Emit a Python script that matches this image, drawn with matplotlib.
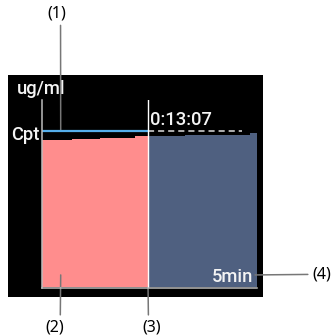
import matplotlib
matplotlib.use('Agg')
import matplotlib.pyplot as plt

W, H = 332, 336

# concentration trend (ug/ml) against time (min)
hist_t = [0.0, 3.7, 7.2, 11.5, 13.12]
hist_c = [3.77, 3.79, 3.83, 3.88, 3.88]
pred_t = [13.12, 17.7, 25.7, 26.6]
pred_c = [3.88, 3.90, 3.955, 3.955]
target_cpt = 4.0
cursor_t = 13.12
dash_end = 24.75
unit_label = 'ug/ml'
target_label = 'Cpt'
cursor_label = '0:13:07'
scale_label = '5min'
callouts = ['(1)', '(2)', '(3)', '(4)']

PINK = '#FF8D8D'
SLATE = '#4F6080'
BLUE = '#55AEEA'
GRID = '#BDBDBD'
CALL = '#777777'


def px_box(x0, y0, x1, y1):
    # pixel box (top-left origin) -> figure fraction rect
    return [x0 / W, 1 - y1 / H, (x1 - x0) / W, (y1 - y0) / H]


fig = plt.figure(figsize=(W / 100, H / 100), dpi=100)
fig.patch.set_facecolor('white')

# black monitor panel
bg = fig.add_axes(px_box(8, 75, 263, 297))
bg.set_facecolor('black')
bg.set_xticks([])
bg.set_yticks([])
for s in bg.spines.values():
    s.set_visible(False)

ax = fig.add_axes(px_box(42, 100, 257, 287.5))
ax.set_facecolor('none')
ax.set_xlim(0, pred_t[-1])
ax.set_ylim(0, 4.8)
ax.set_xticks([])
ax.set_yticks([])
for side in ['top', 'right']:
    ax.spines[side].set_visible(False)
for side in ['left', 'bottom']:
    ax.spines[side].set_color(GRID)
    ax.spines[side].set_linewidth(1.1)
    ax.spines[side].set_zorder(5)

ax.fill_between(hist_t, hist_c, step='post', color=PINK, lw=0)
ax.fill_between(pred_t, pred_c, step='post', color=SLATE, lw=0)
ax.hlines(target_cpt, hist_t[0], cursor_t, color=BLUE, lw=1.6, zorder=4)
ax.hlines(target_cpt, cursor_t, dash_end, color='#DDDDDD', lw=1.1,
          linestyles=(0, (4, 2.6)), zorder=4)
ax.axvline(cursor_t, color='white', lw=1.0, zorder=4)

txt = dict(family='Roboto', fontsize=13.2, weight='medium', color='#F4F4F4')
ax.text(-0.116, 1.033, unit_label, transform=ax.transAxes, ha='left', va='baseline', **txt)
ax.annotate(target_label, xy=(0, target_cpt), xycoords=('axes fraction', 'data'),
            xytext=(-1.5, -6.3), textcoords='offset points', ha='right', va='baseline', **txt)
ax.annotate(cursor_label, xy=(cursor_t, target_cpt), xytext=(1.2, 4.5),
            textcoords='offset points', ha='left', va='baseline', **txt)
ax.text(0.981, 0.03, scale_label, transform=ax.transAxes, ha='right', va='baseline', **txt)

lab = dict(family='Noto Sans', fontsize=11.5, color='black',
           textcoords='offset points', annotation_clip=False)
arrow = dict(arrowstyle='-', color=CALL, lw=1.1, shrinkA=1, shrinkB=0)

ax.annotate(callouts[0], xy=(0.087, target_cpt), xycoords=('axes fraction', 'data'),
            xytext=(-2.7, 85), ha='center', va='center',
            arrowprops=dict(arrow, relpos=(0.69, 0)), **lab)
ax.annotate(callouts[1], xy=(0.087, 0.067), xycoords='axes fraction',
            xytext=(-4.1, -37.5), ha='center', va='center',
            arrowprops=dict(arrow, relpos=(0.78, 1)), **lab)
ax.annotate(callouts[2], xy=(cursor_t, 0), xycoords='data',
            xytext=(2.7, -28.5), ha='center', va='center',
            arrowprops=dict(arrow, relpos=(0.32, 1)), **lab)
ax.annotate(callouts[3], xy=(0.991, 0.067), xycoords='axes fraction',
            xytext=(41, 0.4), ha='left', va='center',
            arrowprops=dict(arrow, relpos=(0, 0.5)), **lab)

fig.savefig('out.png', dpi=100)
